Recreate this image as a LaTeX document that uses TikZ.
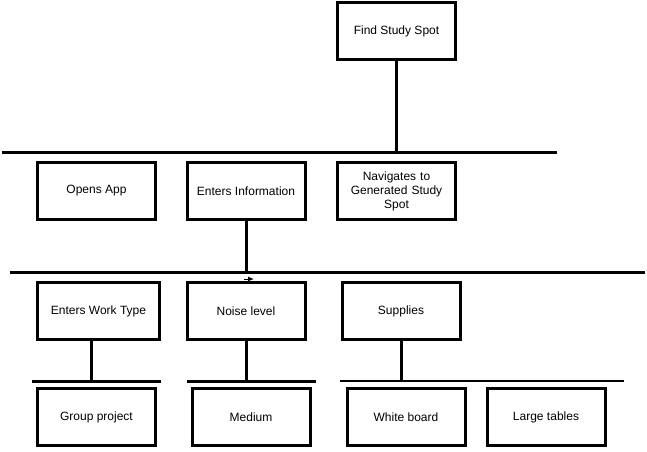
\documentclass[tikz,border=0pt]{standalone}
\usepackage{fontspec}
\setmainfont{Liberation Sans}
\usetikzlibrary{arrows.meta}
\begin{document}
\begin{tikzpicture}
      [
      x=1pt,y=-1pt,
      every node/.style={font=\fontsize{12}{14}\selectfont},
      task/.style={draw,line width=3pt,rectangle,inner sep=0pt,minimum width=118pt,minimum height=57pt,align=center},
      bus/.style={line width=3pt},
      link/.style={line width=3pt}
      ]
      \useasboundingbox (0,0) rectangle (647,451);
      % boxes
      \node (find) at (396.5,31) [task] {Find Study Spot};
      \node (opens) at (96.5,191) [task] {Opens App};
      \node (enters) at (246,191) [task] {Enters Information};
      \node (navigates) at (396.5,191) [task,text width=110pt] {Navigates to\\Generated Study\\Spot};
      \node (worktype) at (98.5,311) [task,minimum width=122pt] {Enters Work Type};
      \node (noise) at (246,311) [task] {Noise level};
      \node (supplies) at (401,311) [task] {Supplies};
      \node (group) at (96.5,417) [task] {Group project};
      \node (medium) at (251,417) [task] {Medium};
      \node (white) at (406,417) [task] {White board};
      \node (large) at (546,417) [task] {Large tables};
      % bus lines
      \coordinate (busA1) at (2,152);
      \coordinate (busA2) at (557,152);
      \coordinate (busB1) at (10,272);
      \coordinate (busB2) at (645,272);
      \coordinate (busC1) at (32,381);
      \coordinate (busC2) at (161,381);
      \coordinate (busD1) at (187,381);
      \coordinate (busD2) at (316,381);
      \coordinate (busE1) at (340,381);
      \coordinate (busE2) at (624,381);
      \draw [bus] (busA1) -- (busA2);
      \draw [bus] (busB1) -- (busB2);
      \draw [bus] (busC1) -- (busC2);
      \draw [bus] (busD1) -- (busD2);
      \draw [bus,line width=2.5pt] (busE1) -- (busE2);
      % links
      \draw [link] (find.south) -- (find.south |- busA1);
      \draw [link] (enters.south) -- (enters.south |- busB1);
      \draw [link] ([xshift=-7pt]worktype.south) -- ([xshift=-7pt]worktype.south |- busC1);
      \draw [link] (noise.south) -- (noise.south |- busD1);
      \draw [link] (supplies.south) -- (supplies.south |- busE1);
      \draw [-{Latex[length=6pt,width=5pt]}, line width=1pt] ([xshift=-2pt,yshift=2pt]noise.north) -- ++(10,0);
    \end{tikzpicture}
\end{document}
